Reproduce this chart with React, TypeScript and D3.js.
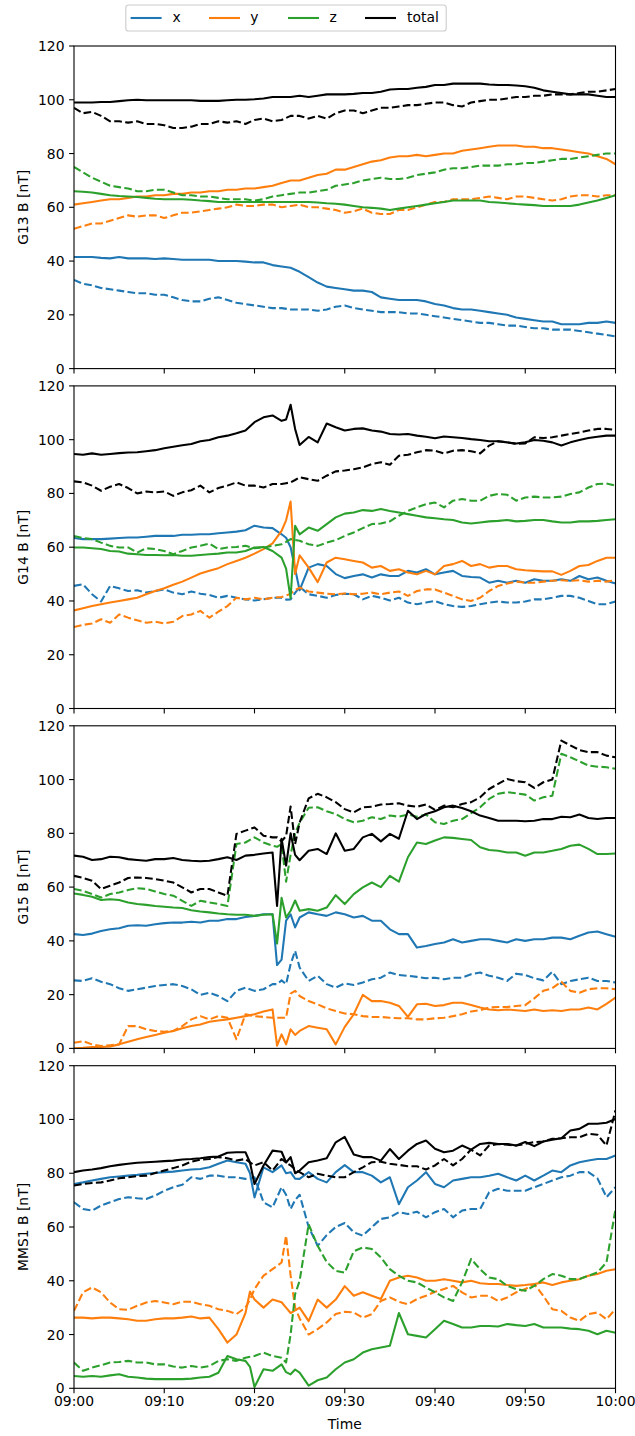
import React from "react";
import * as d3 from "d3";

// ---------- axis / category data ----------
const tickMinutes = [0, 10, 20, 30, 40, 50, 60];
const tickLabels = ["09:00", "09:10", "09:20", "09:30", "09:40", "09:50", "10:00"];
const yTicks = [0, 20, 40, 60, 80, 100, 120];
const seriesNames = ["x", "y", "z", "total"];
const panelLabels = ["G13 B [nT]", "G14 B [nT]", "G15 B [nT]", "MMS1 B [nT]"];

// ---------- time stamps (minutes after 09:00) ----------
const tG13 = [0,1,2,3,4,5,6,7,8,9,10,11,12,13,14,15,16,17,18,19,20,21,22,23,24,25,26,27,28,29,30,31,32,33,34,35,36,37,38,39,40,41,42,43,44,45,46,47,48,49,50,51,52,53,54,55,56,57,58,59,60];
const tG14 = [0,1,2,3,4,5,6,7,8,9,10,11,12,13,14,15,16,17,18,19,20,21,22,23,23.5,24,24.5,25,26,27,28,29,30,31,32,33,34,35,36,37,38,39,40,41,42,43,44,45,46,47,48,49,50,51,52,53,54,55,56,57,58,59,60];
const tG15 = [0,1,2,3,4,5,6,7,8,9,10,11,12,13,14,15,16,17,18,19,20,21,22,22.5,23,23.5,24,24.5,25,26,27,28,29,30,31,32,33,34,35,36,37,38,39,40,41,42,43,44,45,46,47,48,49,50,51,52,53,54,55,56,57,58,59,60];
const tMMS = [0,1,2,3,4,5,6,7,8,9,10,11,12,13,14,15,16,17,18,19,19.5,20,21,22,23,23.5,24,24.5,25,26,27,28,29,30,31,32,33,34,35,36,37,38,39,40,41,42,43,44,45,46,47,48,49,50,51,52,53,54,55,56,57,58,59,60];

// ---------- G13 ----------
const g13X = [41.5,41.5,41.5,41.2,41,41.5,41,41,41,40.8,41, 40.8,40.5,40.5,40.5,40.5,40,40,40,39.8,39.5, 39.5,38.5,38,37.5,36,34,32,30.5,30,29.5, 29,29,28.5,26.5,26,25.5,25.5,25.5,25,24, 23.5,22.5,22,22,21.5,21,20.5,20,19,18.5, 18,17.5,17.5,16.5,16.5,16.5,17,17,17.5,17];
const g13Xd = [33,31.5,31,30,29.5,29,28.5,28,28,27.5,27.5, 26.5,25.5,25,25,26,26.5,25.5,24.5,24,23.5, 23,22.5,22.5,22,22,22,21.5,22,23,23.5, 22.5,22,21.5,21,21,21,20.5,20.5,20,19.5, 19,18.5,18,17.5,17,17,16.5,16,16,15.5, 15,15,14.5,14.5,14.5,14,13.5,13,12.5,12];
const g13Y = [61,61.5,62,62.5,63,63,63.5,64,64,64.5,64.5, 65,65,65.5,65.5,66,66,66.5,66.5,67,67, 67.5,68,69,70,70,71,72,72.5,74,74, 75,76,77,77.5,78.5,79,79,79.5,79,79.5, 80,80,81,81.5,82,82.5,83,83,83,82.5, 82.5,82,82,81.5,81,80.5,80,79,78,76];
const g13Yd = [52,53,54,54,55,56,57,56.5,57,57,56, 57,58,58,58.5,59,59.5,60,61,60.5,60.5, 61,61,60,60.5,61,60,60,59.5,59,58, 58.5,59.5,58,57.5,57.5,59,59,60,61,62, 62,63,63,63,63.5,64,63.5,63,64,64, 63.5,63,62.5,63,64,64.5,64.5,64,64.5,64.5];
const g13Z = [66,65.8,65.5,65,64.5,64.2,64,63.8,63.5,63.2,63, 63,63,62.8,62.5,62.3,62,62,62,62,62, 62,62,62,62,62,62,61.8,61.5,61.3,61, 60.5,60,59.8,59.5,59,59.5,60,60.5,61,61.5, 62,62.5,62.5,62.5,62.5,62,61.8,61.5,61.2,61, 60.8,60.5,60.5,60.5,60.5,61,61.8,62.5,63.5,64.5];
const g13Zd = [75,73,71,69.5,68,67.5,67,66,66,66.5,66.5, 65.5,64.5,64.5,64,64,63.5,63,63,63,62.5, 63,64,64.5,65,65.5,65.5,66,66.5,68,68.5, 69,70,70.5,71,70.5,70.5,71,72,72.5,73, 74,74.5,74.5,75,75.5,75.5,75.5,76,76,76.5, 76.5,77,77.5,78,78,78.5,79,79.5,80,80];
const g13T = [99,99,99,99.2,99.2,99.5,99.8,100,99.8,99.8,99.8, 99.8,99.8,99.8,99.6,99.6,99.6,99.8,100,100,100.2, 100.5,101,101,101,101.5,101,101.5,102,102,102, 102.2,102.5,102.5,103,103.8,104,104,104.5,104.8,105.5, 105.5,106,106,106,106,105.7,105.5,105.5,105.3,105, 104.5,103.5,103,102.5,102,102,102,101.5,101,101];
const g13Td = [97,95,95.5,94,92,92,91.5,92,91,91,90.5, 89.5,89.5,90,91,91,92,91.5,92,91,92.5, 93,92,92.5,94,94,93,94,93,95,96, 96,95,96,97,97,97.5,98,98,98.5,99, 99,98,97.5,99,99.5,100,100,100.5,101,101, 101.5,101.5,102,102,102,102.5,103,103,103.5,104];

// ---------- G14 ----------
const g14X = [63.4,63,63,63,63.2,63.4,63.6,63.6,63.9,64.2, 64.2,64.2,64.6,64.6,64.8,64.8,65.2,65.5,65.8,66.3, 68,67.3,67.1,64.8, 63.5,60,52, 44,52.4,53.7,53,50, 48.5,49.3,49.9,48.7,49.9,49.3,49.3,51.2,50.6,51.8, 49.9,50.6,51.2,49.3,48.9,48.7,46.8,47.5,46.8,47.5, 46.8,48.1,47.5,47.5,48.1,47.5,49.3,48.1,48.7,47.5,46.5];
const g14Xd = [45.6,46.2,42.5,39.8,45.6,44.7,43.7,44,43.1,43.7, 44.3,43.1,42.5,43.5,42.7,42.2,41.2,41.9,41.2,40.6, 40.2,40.6,41.2,41.2, 40.5,40.6,43, 45.2,42.5,41.9,41.2,42.2, 42.7,42.5,40.6,41.9,41.2,40.2,41.2,39.4,38.8,39.4, 40,38.8,38.1,37.8,38.1,38.8,39.4,39.8,39.4,39.4, 39.8,40.6,40.6,41.2,41.9,41.9,41.2,40,38.8,38.8,39.8];
const g14Y = [36.5,37.3,38.1,38.8,39.4,40,40.6,41.2,42.5,43.7, 44.7,46,47.2,48.7,50.2,51.2,52.2,53.7,54.9,56.1, 57.6,59.3,61.4,66.1, 70,77,50, 57,52.4,47,54.3,56.1, 55.5,54.9,54.3,52.4,53,51.2,51.8,50.6,49.9,51.2, 49.9,53,53.7,54.9,53,53.7,52.4,53,53,51.8, 51.4,51.2,51,51,49.7,51.2,53,53.4,54.9,56.1,56.1];
const g14Yd = [30.3,31.1,31.6,33.2,31.9,35,33.8,32.8,31.9,32.3, 31.6,32.3,34.4,35,36.3,33.8,36,38.1,41.2,40.6, 41.2,40.6,41.2,41.5, 42,42.7,44, 45,43.5,43.1,42.7,42.5, 42.8,42.5,42.7,43.1,42.5,43.1,43.5,41.9,43.7,44.3, 44.3,43.1,41.9,40.6,40,41.2,43.7,45.6,46.5,47.2, 46.8,46.8,47.2,47.5,47.7,47.5,47.7,47.2,47.5,47.2,47.7];
const g14Z = [59.9,59.9,59.6,59.3,58.6,58.4,57.6,57.4,57.1,57.1, 57,57.1,56.8,56.8,57.1,57.4,57.6,58,58,58.6, 59.9,60.1,58.6,56.1, 52,41,68, 64.8,67.3,66.1,68.6,71.1, 72.5,72.9,73.8,73.5,74.2,73.5,72.9,72.3,71.7,71.1, 70.8,70.4,70.1,69.2,68.8,69.2,69.6,69.8,70.1,69.6, 69.8,70.1,70.1,69.6,69.2,69.2,69.6,69.6,69.8,70.1,70.4];
const g14Zd = [64.2,63.4,63,61.7,60.5,59.9,59.9,58,59.6,59.3, 58.6,57.4,58.6,59.9,60.5,61.4,59.3,59.9,60.1,60.5, 59.6,59.9,60.5,61.1, 62,63,62.7, 62.4,61.1,60.5,61.7,62.6, 64.2,65.5,67.1,68.6,68.8,69.6,71.7,73.5,74.8,76, 76.6,74.8,77.3,77.9,77.3,77.3,79.1,79.8,79.5,77.3, 78.5,78.8,78.5,78.5,78.8,79.8,80.4,82.2,83.5,83.7,82.9];
const g14T = [94.7,94.4,94.9,94.4,94.7,95,95.2,95.3,95.7,96.1, 96.8,97.4,97.9,98.4,99.4,99.9,100.9,101.5,102.4,103.4, 106.5,108.3,109,107, 107.5,113,104, 98,101,99,106,104.6, 103.4,104,104.2,103.4,103,102.1,101.9,102.1,101.5,101.1, 100.5,101.2,100.9,100.6,100.2,99.9,99.4,99.4,99,98.6, 99,99.9,99.6,99,97.8,99,99.9,100.6,101.1,101.5,101.5];
const g14Td = [84.5,84.1,82.9,81,82.5,83.5,82,80,80.7,80.4, 80.7,79.1,80.4,81.2,82.9,80.4,82,82.9,84.1,82.9, 82.9,82.2,83.5,83.5, 83.8,84.1,85, 86,85.3,84.7,86.6,88.2, 88.5,89,89.7,90.9,91.6,90.7,94,94.4,95.3,96.1, 95.9,94.9,95.9,96.1,95.7,94.9,97.8,99.4,99,98.4, 98.6,100.9,100.6,100.9,101.5,102.1,102.7,103.4,104,104,103.6];

// ---------- G15 ----------
const g15X = [42.5,42.2,42.7,43.7,44.3,44.7,45.6,45.8,45.6,46.2, 46.6,46.8,46.8,47.1,46.8,47.5,47.5,48.1,48.1,48.9, 49.3,49.9,49.9, 31,33,47.5,49.9,45, 48.7,50.6,49.9,49.3,50.6, 49.9,48.7,49.3,47.5,47.5,44.3,42.5,42.5,37.5,38.1, 38.8,39.4,40.6,39.4,40,40.6,40.6,40,39.4,40.6, 40,40.6,40.6,41.2,41.2,40.6,41.9,43.1,43.5,42.5,41.5];
const g15Xd = [25.3,25.1,26.1,24.8,23.9,22.4,21.4,22,22.6,23.2, 23.6,23.9,23.2,22,19.9,20.7,19.5,17.6,21.4,22.6, 21.4,22,23.9, 23.9,25.3,23.9,31.3,36.3, 30.1,25.1,27,23.9,22.6, 24.2,23.6,24.5,25.7,26.3,28.2,27.3,27,26.6,26.1, 26.3,25.7,26.3,26.3,27.6,28.2,27,26.3,25.1,27.8, 27.3,26.1,25.3,28.5,23.9,25.1,25.7,26.3,25.1,25.1,24.5];
const g15Y = [0,0.2,0.5,0.5,0.7,1.5,2.5,3.4,4.2,5, 5.8,6.5,7.5,8.3,8.9,9.9,10.4,10.8,11.4,12, 12.7,13.7,14.5, 1,5.2,1.5,7.1,5, 6.5,8.3,7.7,7.1,1.5, 8,12.7,19.9,17.6,17.6,17,15.8,11.7,16.4,16.6, 15.8,16.1,17,17,16.1,15.2,14.5,14.2,14.5,14.2, 13.9,14.5,13.9,14.2,13.9,14.5,14.5,15.2,14.5,16.6,18.9];
const g15Yd = [2.1,2.7,1.5,0.9,1.2,1.5,8.3,8.3,7.1,6.5, 6.2,6.5,8.3,10.8,12,10.8,12,11.4,3.4,12.7, 12,11.7,11.4, 11.4,11.4,11.4,20.4,21.4, 19.5,17.6,16.4,14.9,13.9, 13,12.7,12,11.7,11.7,11.4,11.2,11.2,10.8,10.8, 11.2,11.4,12,12.7,13.7,14.2,15.2,15.4,15.4,15.8, 16.1,18.6,21.4,22.4,24.8,21.4,20.7,22,22.4,22.4,22];
const g15Z = [57.6,57.1,56.4,55.2,55.5,55.2,54.3,53.7,53.4,53, 52.7,52.4,52.2,51.4,50.9,50.6,50.2,49.9,49.7,49.7, 49.3,49.7,49.9, 39,56,48.7,51.2,55, 51.2,51.8,51.2,52.4,57, 53.7,57.4,59.9,61.7,60,64.2,62,71.1,76.6,76, 77.3,78.5,78.3,77.9,77.5,74.8,73.8,73.5,72.9,72.9, 71.7,72.9,72.9,73.5,74.2,75.4,75.8,74.2,72.3,72.3,72.5];
const g15Zd = [59.3,58.6,57.4,56.1,57.4,58,58.9,59.6,59.3,58.4, 57.4,56.8,54.9,53,54.9,54.3,53.7,53,76,76.6, 78.5,76.6,75.4, 75,76,62,72,80, 84,89.5,89.7,88.2,87.2, 85.3,84.1,84.7,86,85.3,86.6,86.2,87,86.2,87, 84.1,83.5,84.7,85.3,87.5,89.7,92.8,94.7,95.3,94.9, 94.4,92.2,93.4,94,109.6,108.3,106.8,105.2,104.8,104.6,104];
const g15T = [71.7,71.3,70.1,70.4,71.3,71.1,70.4,70.1,69.8,70.4, 70.4,70.8,70.1,69.8,69.6,69.8,70.4,71.1,70.1,71.7, 72,72.5,72.9, 53,78,68,80,72, 70,73.5,74.2,72.3,80, 73.5,74.2,78.5,79.8,77,79.8,78,88.4,85.3,87.2, 88.2,89.7,90.3,89.4,88.2,86.6,85.7,84.7,84.7,84.7, 84.5,84.7,85.3,85.3,86.2,86,87,85.7,85.3,85.7,85.7];
const g15Td = [64.2,63.4,62.4,59.3,60.5,61.7,63.4,63.6,63.4,63, 62.4,61.7,59.9,58,59.3,59.3,58,56.8,79.8,81, 82.2,79.1,78.5, 78.5,77,79,90,76, 84,93,94.7,93.4,91.6, 89,87.8,89.7,89.9,90.7,90.9,91.2,90.3,89.9,90.7, 88.7,90.3,89.7,90.9,91.6,93.4,96.5,98.4,100.2,99.4, 99,96.9,99,100,114.5,112.7,111,110.2,110.2,108.9,108.3];

// ---------- MMS1 ----------
const mmsX = [76,76.6,77.3,77.9,78.5,78.8,79.1,79.4,79.8,80.1, 80.4,80.6,81,81.4,81.6,82.2,83.5,84.7,84.1,83.5, 80, 71,82.2,80.4,82.9, 80,80.4,78, 77.9,80.4,77.9,76.6,80.4, 83,80.4,80.4,79.1,76.6,78.5,68.5,74.8,77.3,80.4, 76,74.8,77.3,77.9,78.5,78.5,79.1,79.8,78.5,77.3, 79.1,77.3,79.1,81,80.4,82.9,84.1,84.7,85.3,85.3,86.6];
const mmsXd = [69.2,66.7,66.1,68,69.2,70.4,71.1,70.7,70.4,71.7, 73.5,74.8,75.7,78.5,77.9,79.1,79.1,78.5,78.5,77.9, 78, 78.5,69.2,67.3,74.8, 72,66.7,70, 72,60,53,57,60, 61.5,58,56.8,59.9,63,63.6,65.5,64.8,65.7,63.6, 65.5,66.7,63.6,66.1,66.7,66.7,72.9,74.2,73.5,73.5, 73.5,74.8,76,77.3,78.5,79.1,80.4,80.4,78.1,71.1,74.8];
const mmsY = [26.3,26.3,26,26.3,26.3,26,25.7,25.1,25.1,25.7, 26,26,26.3,26.7,26,26.3,22,17,20,28, 36, 33,30,33,32, 30,28,29, 30,25,33,30,33, 38,34.4,35.7,34.4,33.2,40,41.2,41.9,41.2,40, 40,40.6,40,39.4,40,39.1,38.8,38.8,38.4,38.1, 38.4,38.8,39.4,38.4,39.4,40,40.6,41.9,42.5,43.7,44.3];
const mmsYd = [28.8,35.7,37.5,35.7,31.9,29.4,29.2,30.7,31.9,32.5, 31.9,31.3,32.2,32.2,31.3,30.7,29.4,28.8,27.6,30, 33, 36.9,41.9,44.3,46.8, 56.8,42,30, 26,20,22,24.5,27.6, 28.5,28.2,26.3,27.6,32.5,33.8,32.2,31.3,33.2,34.4, 35.9,36.9,38.1,35.7,33.8,34.4,34.4,32.5,33.8,35.7, 36.9,38.8,34.4,29.4,28.8,26.3,25.1,27.6,28.2,25.7,29.4];
const mmsZ = [4.6,4.3,4.6,4.3,4.8,5.2,4.3,4,3.6,3.4, 3.4,3.4,3.4,3.6,4,4.3,5.8,12,10.8,10.2, 8, 0.5,7.1,6.5,8.9, 6,5.2,7, 5.8,1,3,4,7.1, 9.6,10.8,13.3,14.5,15.2,15.8,28,20.1,19.5,18.9, 22,25.1,23.9,22.6,22.6,23.2,23.2,23,23.9,23.5, 23.2,23.9,22.6,22.6,22.6,22.2,22,21.4,20.1,21.4,20.7];
const mmsZd = [9.6,6.5,7.7,8.6,9.6,9.8,10.2,9.6,9.6,8.9, 8.9,8.1,7.7,8.3,7.7,8.3,10.2,10.8,10.2,11.4, 11.7, 12,13.3,12,11.4, 9.6,20,35, 40,61,53,47,43.7, 43,51,52.4,51.8,48.7,44.3,41.9,40,39.4,37.5, 35.7,33.8,32.5,39.4,48.1,44.3,41.2,40.6,38.1,36.9, 36.3,38.1,40.6,42.5,41.9,40.6,40.6,41.9,43.1,46.8,66.7];
const mmsT = [80.4,81,81.4,81.9,82.6,83.1,83.5,83.9,84.1,84.3, 84.5,84.7,85.1,85.3,85.6,86,86.2,87.6,87.8,87.8, 84, 76,82.9,88.4,88, 84,86,80, 81,84.1,84.7,85.6,91.5, 93.5,87,86,86,84.7,89,85.3,88.4,90.9,92.2, 89.1,87.8,88.4,90.3,88.8,90.9,91.3,90.9,90.9,90.3, 91.6,90.1,91.8,92.5,93,95.9,96.5,98.4,98.4,98.8,100.2];
const mmsTd = [75.4,76,76.4,76.6,77.3,78.1,78.5,78.9,79.1,80.1, 81,81.9,82.9,84.3,85.1,85.3,86,85.6,84.7,85.3, 84, 82.9,84.1,81,85.3, 84,82.9,81.5, 80.4,78.5,79.8,79.1,78.5, 78.5,80.4,82.2,84.1,84.3,83.5,83.1,82.6,82.6,81.4, 82.9,85.3,82.9,85.3,88.8,86.6,90.3,90.9,90.6,90.3, 90.9,91.6,91.8,92.8,93,93.4,93.4,94.7,94.3,90.3,103.4];

const COLORS: Record<string, string> = { x: "#1f77b4", y: "#ff7f0e", z: "#2ca02c", total: "#000000" };

const panels = [
  { t: tG13, solid: [g13X, g13Y, g13Z, g13T], dashed: [g13Xd, g13Yd, g13Zd, g13Td] },
  { t: tG14, solid: [g14X, g14Y, g14Z, g14T], dashed: [g14Xd, g14Yd, g14Zd, g14Td] },
  { t: tG15, solid: [g15X, g15Y, g15Z, g15T], dashed: [g15Xd, g15Yd, g15Zd, g15Td] },
  { t: tMMS, solid: [mmsX, mmsY, mmsZ, mmsT], dashed: [mmsXd, mmsYd, mmsZd, mmsTd] },
];

const W = 635, H = 1436;
const L = 74, R = 615.5;
const TOP0 = 46, STEP = 339.9, PH = 322.6;
const FS = 13.9;
const LW = 2.08;

export default function App() {
  const x = d3.scaleLinear().domain([0, 60]).range([L, R]);
  return (
    <svg width={W} height={H} style={{ position: "absolute", left: 0, top: 0, display: "block" }}
      fontFamily="'DejaVu Sans', sans-serif" fontSize={FS}>
      <rect x={0} y={0} width={W} height={H} fill="#fff" />
      <defs>
        {panels.map((p, i) => {
          const top = TOP0 + i * STEP;
          return (
            <clipPath id={`clip${i}`} key={i}>
              <rect x={L} y={top} width={R - L} height={PH} />
            </clipPath>
          );
        })}
      </defs>
      {panels.map((p, i) => {
        const top = TOP0 + i * STEP;
        const y = d3.scaleLinear().domain([0, 120]).range([top + PH, top]);
        const line = (vals: number[]) =>
          d3.line<number>().x((_, k) => x(p.t[k])).y((v) => y(v))(vals) || "";
        const paths: JSX.Element[] = [];
        seriesNames.forEach((name, k) => {
          paths.push(
            <path key={`s${k}`} d={line(p.solid[k])} fill="none" stroke={COLORS[name]}
              strokeWidth={LW} strokeLinejoin="round" strokeLinecap="butt" />
          );
          paths.push(
            <path key={`d${k}`} d={line(p.dashed[k])} fill="none" stroke={COLORS[name]}
              strokeWidth={LW} strokeDasharray="7.7,3.33" strokeLinejoin="round" strokeLinecap="butt" />
          );
        });
        const cy = top + PH / 2;
        return (
          <g key={i}>
            <g clipPath={`url(#clip${i})`}>{paths}</g>
            <rect x={L} y={top} width={R - L} height={PH} fill="none" stroke="#000" strokeWidth={1.1} />
            {yTicks.map((v) => (
              <g key={v}>
                <line x1={L - 4.9} x2={L} y1={y(v)} y2={y(v)} stroke="#000" strokeWidth={1.1} />
                <text x={L - 9.5} y={y(v)} dy="0.36em" textAnchor="end" fill="#000">{v}</text>
              </g>
            ))}
            {tickMinutes.map((m, k) => (
              <g key={m}>
                <line x1={x(m)} x2={x(m)} y1={top + PH} y2={top + PH + 4.9} stroke="#000" strokeWidth={1.1} />
                {i === panels.length - 1 && (
                  <text x={x(m)} y={top + PH + 17.5} textAnchor="middle" fill="#000">{tickLabels[k]}</text>
                )}
              </g>
            ))}
            <text transform={`translate(27.7,${cy}) rotate(-90)`} textAnchor="middle" fill="#000">
              {panelLabels[i]}
            </text>
          </g>
        );
      })}
      <text x={(L + R) / 2} y={1429} textAnchor="middle" fill="#000">Time</text>
      {/* legend */}
      <g>
        <rect x={125.8} y={5} width={320.4} height={26} rx={2.8} fill="#fff" fillOpacity={0.8} stroke="#cccccc" strokeWidth={1.1} />
        {seriesNames.map((name, k) => {
          const hx = [130.6, 209, 288, 365][k];
          const tx = [172.4, 250.3, 329.4, 407][k];
          return (
            <g key={name}>
              <line x1={hx} x2={hx + 31} y1={18} y2={18} stroke={COLORS[name]} strokeWidth={LW} />
              <text x={tx} y={18} dy="0.32em" fill="#000">{name}</text>
            </g>
          );
        })}
      </g>
    </svg>
  );
}
